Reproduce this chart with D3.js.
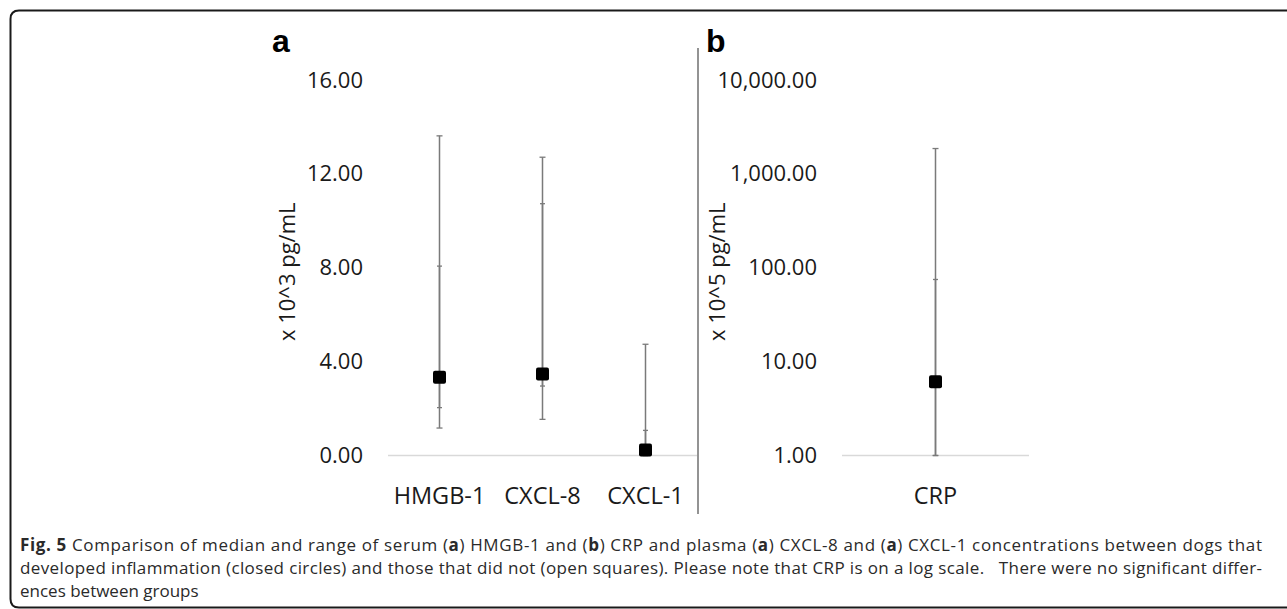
<!DOCTYPE html>
<html><head><meta charset="utf-8">
<script src="https://cdn.jsdelivr.net/npm/d3@7"></script>
<style>html,body{margin:0;padding:0;background:#fff;}svg{display:block;}</style>
</head><body>
<script>
// Panel a data (x 10^3 pg/mL)
const categoriesA = ["HMGB-1", "CXCL-8", "CXCL-1"];
const medianA = [3.33, 3.47, 0.23];
const outerMinA = [1.17, 1.54, 0.0];
const outerMaxA = [13.62, 12.71, 4.74];
const innerMinA = [2.04, 2.96, 0.0];
const innerMaxA = [8.07, 10.73, 1.07];
const ticksA = [0, 4, 8, 12, 16];

// Panel b data (x 10^5 pg/mL, log scale)
const categoriesB = ["CRP"];
const medianB = [6.1];
const outerMinB = [1.0];
const outerMaxB = [1862];
const innerMinB = [1.0];
const innerMaxB = [75];
const ticksB = [1, 10, 100, 1000, 10000];

const W = 1287, H = 609;
const svg = d3.select("body").append("svg").attr("width", W).attr("height", H);
const FONT = "'Open Sans', 'Liberation Sans', sans-serif";

// frame
svg.append("path")
  .attr("d", "M1287,10.5 H19 Q10.5,10.5 10.5,19 V599 Q10.5,607.5 19,607.5 H1287")
  .attr("fill", "none").attr("stroke", "#1a1a1a").attr("stroke-width", 2);

const yTop = 80, yBot = 455.5;
const fmt = d3.format(",.2f");

function panel(opts) {
  const g = svg.append("g");
  const x = d3.scaleBand().domain(opts.cats).range([opts.x0, opts.x1]);
  const y = opts.y;
  // baseline grid line
  g.append("line").attr("x1", opts.x0).attr("x2", opts.x1)
    .attr("y1", y(opts.ticks[0])).attr("y2", y(opts.ticks[0]))
    .attr("stroke", "#d9d9d9").attr("stroke-width", 1.3);
  // y axis labels via d3 axis
  const ax = g.append("g").attr("transform", `translate(${opts.labelRight + 8},0)`)
    .call(d3.axisLeft(y).tickValues(opts.ticks).tickFormat(fmt).tickSize(0).tickPadding(8));
  ax.select(".domain").remove();
  ax.selectAll("text").attr("font-family", FONT).attr("font-size", 22).attr("fill", "#1a1a1a");
  // x labels
  const axx = g.append("g").attr("transform", `translate(0,${yBot})`)
    .call(d3.axisBottom(x).tickSize(0));
  axx.select(".domain").remove();
  axx.selectAll("text").attr("font-family", FONT).attr("font-size", 23.5).attr("fill", "#1a1a1a")
    .attr("y", 48).attr("dy", null);
  // axis title
  g.append("text").attr("transform", `translate(${opts.titleX},${(yTop + yBot) / 2 + 4}) rotate(-90)`)
    .attr("text-anchor", "middle").attr("dy", "0.35em")
    .attr("font-family", FONT).attr("font-size", 22).attr("fill", "#1a1a1a").text(opts.title);
  // panel letter
  g.append("text").attr("x", opts.letterX).attr("y", 52).attr("font-family", "'Liberation Sans', Arial, sans-serif")
    .attr("font-weight", "bold").attr("font-size", 32).attr("fill", "#000").text(opts.letter);

  const cx = d => x(d) + x.bandwidth() / 2;
  const col = "#7a7a7a";
  opts.cats.forEach((c, i) => {
    const xc = cx(c);
    g.append("line").attr("x1", xc).attr("x2", xc)
      .attr("y1", y(opts.omin[i])).attr("y2", y(opts.omax[i]))
      .attr("stroke", col).attr("stroke-width", 1.5);
    g.append("line").attr("x1", xc).attr("x2", xc)
      .attr("y1", y(opts.imin[i])).attr("y2", y(opts.imax[i]))
      .attr("stroke", col).attr("stroke-width", 1.5);
    [[opts.omax[i], 3], [opts.omin[i], 3], [opts.imax[i], 2.5], [opts.imin[i], 2.5]].forEach(([v, hw]) => {
      g.append("line").attr("x1", xc - hw).attr("x2", xc + hw)
        .attr("y1", y(v)).attr("y2", y(v)).attr("stroke", col).attr("stroke-width", 1.3);
    });
    g.append("rect").attr("x", xc - 6.5).attr("y", y(opts.med[i]) - 6.5)
      .attr("width", 13).attr("height", 13).attr("rx", 2).attr("fill", "#000");
  });
}

panel({
  cats: categoriesA, x0: 388, x1: 697,
  y: d3.scaleLinear().domain([0, 16]).range([yBot, yTop]),
  ticks: ticksA, labelRight: 363, titleX: 287, title: "x 10^3 pg/mL",
  letter: "a", letterX: 272,
  med: medianA, omin: outerMinA, omax: outerMaxA, imin: innerMinA, imax: innerMaxA
});
panel({
  cats: categoriesB, x0: 842, x1: 1029,
  y: d3.scaleLog().domain([1, 10000]).range([yBot, yTop]),
  ticks: ticksB, labelRight: 817, titleX: 717, title: "x 10^5 pg/mL",
  letter: "b", letterX: 706,
  med: medianB, omin: outerMinB, omax: outerMaxB, imin: innerMinB, imax: innerMaxB
});

// divider
svg.append("line").attr("x1", 698).attr("x2", 698).attr("y1", 48).attr("y2", 514)
  .attr("stroke", "#595959").attr("stroke-width", 1.3);

// caption
const capLines = [
  { y: 551, len: 1242, parts: [["Fig. 5", true], [" Comparison of median and range of serum (", false], ["a", true], [") HMGB-1 and (", false], ["b", true], [") CRP and plasma (", false], ["a", true], [") CXCL-8 and (", false], ["a", true], [") CXCL-1 concentrations between dogs that", false]] },
  { y: 574, len: 1242, parts: [["developed inflammation (closed circles) and those that did not (open squares). Please note that CRP is on a log scale.   There were no significant differ-", false]] },
  { y: 597, len: null, parts: [["ences between groups", false]] }
];
capLines.forEach(l => {
  const t = svg.append("text").attr("x", 20).attr("y", l.y)
    .attr("font-family", "'Open Sans', sans-serif").attr("font-size", 17).attr("fill", "#2a2a2a")
    .attr("xml:space", "preserve").style("white-space", "pre");
  if (l.len) t.attr("textLength", l.len).attr("lengthAdjust", "spacing");
  l.parts.forEach(([s, b]) => t.append("tspan").attr("font-weight", b ? "bold" : "normal").text(s));
});
</script>
</body></html>
